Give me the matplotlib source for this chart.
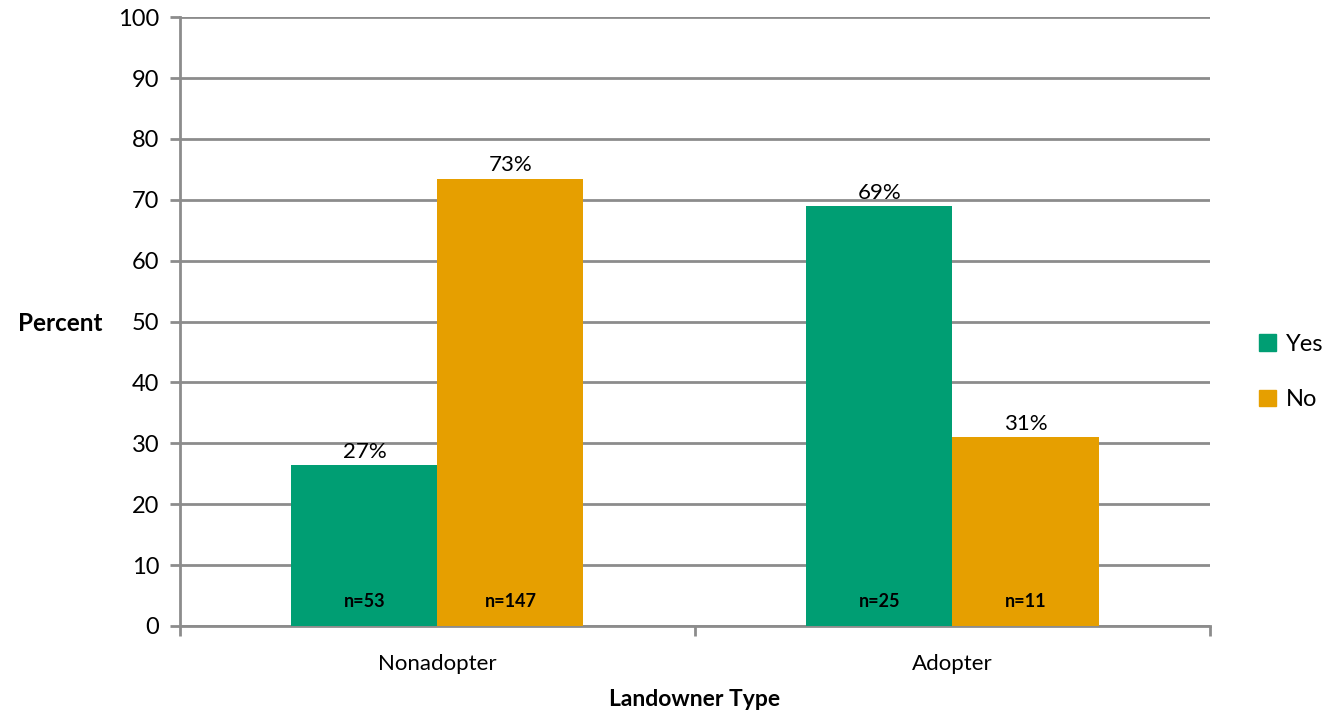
import numpy as np
import matplotlib as mpl
import matplotlib.pyplot as plt
from matplotlib.patches import Patch

mpl.rcParams.update({'font.family': ['Lato', 'DejaVu Sans'], 'font.size': 16})

categories = ['Nonadopter', 'Adopter']
series = ['Yes', 'No']
yes_vals = [26.5, 69.0]
no_vals = [73.5, 31.0]
yes_pct = ['27%', '69%']
no_pct = ['73%', '31%']
yes_n = ['n=53', 'n=25']
no_n = ['n=147', 'n=11']

green = '#009e73'
orange = '#e69f00'
grid_c = '#8c8c8c'

fig = plt.figure(figsize=(13.23, 7.17), dpi=100)
ax = fig.add_axes([0.136, 0.127, 0.7786, 0.849])

x = np.arange(len(categories))
w = 0.2835
b1 = ax.bar(x - w/2, yes_vals, w, color=green, zorder=3)
b2 = ax.bar(x + w/2, no_vals, w, color=orange, zorder=3)

for bars, pct, ns in [(b1, yes_pct, yes_n), (b2, no_pct, no_n)]:
	for r, p, n in zip(bars, pct, ns):
		cx = r.get_x() + r.get_width()/2
		ax.text(cx, r.get_height() + 0.5, p, ha='center', va='bottom', fontsize=16)
		ax.text(cx, 4.0, n, ha='center', va='center', fontsize=13, fontweight='bold')

ax.set_xlim(-0.5, 1.5)
ax.set_ylim(0, 100)
ax.set_yticks(range(0, 101, 10))
ax.set_xticks(x)
ax.set_xticklabels(categories, fontsize=16)
ax.set_xticks([-0.5, 0.5, 1.5], minor=True)
ax.tick_params(axis='x', which='major', length=0, pad=20)
ax.tick_params(axis='x', which='minor', length=7, width=2, color=grid_c)
ax.tick_params(axis='y', length=7, width=2, color=grid_c, labelsize=17, pad=8)

ax.yaxis.grid(True, color=grid_c, linewidth=2, zorder=0)
ax.set_axisbelow(True)
for s in ['top', 'right']:
	ax.spines[s].set_visible(False)
ax.spines['left'].set_color(grid_c)
ax.spines['left'].set_linewidth(2)
ax.spines['bottom'].set_color(grid_c)
ax.spines['bottom'].set_linewidth(2)

ax.set_ylabel('Percent', fontsize=17.5, fontweight='bold', rotation=0, va='center', ha='center')
ax.yaxis.set_label_coords(-0.1165, 0.4975)
ax.set_xlabel('Landowner Type', fontsize=16.5, fontweight='bold', labelpad=11)

handles = [Patch(color=green, label='Yes'), Patch(color=orange, label='No')]
fig.legend(handles=handles, loc='center left', bbox_to_anchor=(0.952, 0.481), frameon=False,
	borderpad=0, borderaxespad=0, fontsize=17, handlelength=0.7, handleheight=0.7,
	handletextpad=0.4, labelspacing=1.45)

fig.savefig('out.png', dpi=100)
